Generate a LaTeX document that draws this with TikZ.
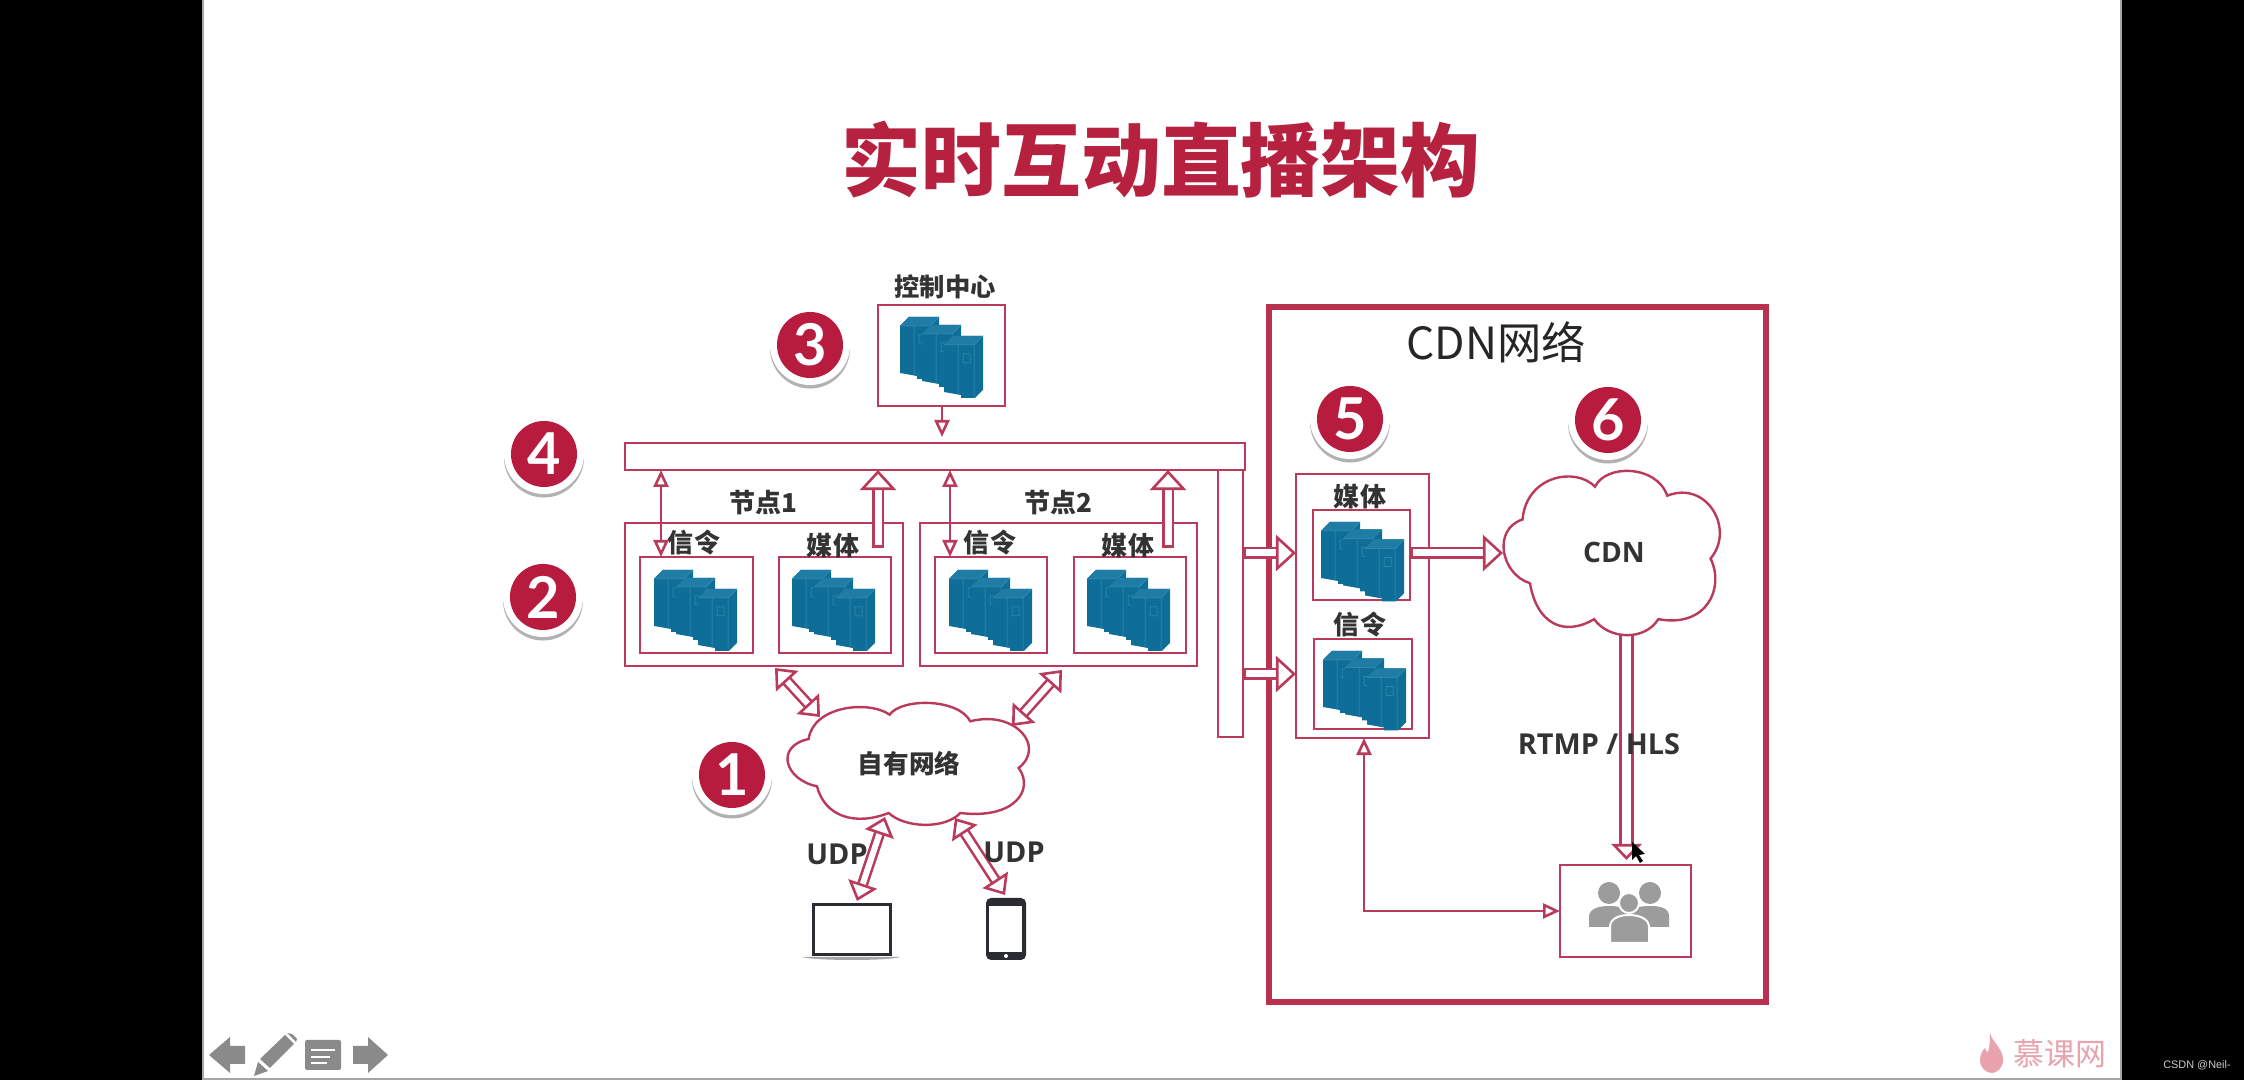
\documentclass[tikz,border=0pt]{standalone}
\usepackage{fontspec}
\usepackage{xcolor}
\usetikzlibrary{arrows.meta,fit,shadows}

\newfontfamily\cjk{Noto Sans CJK SC}
\newfontfamily\latn{Open Sans}
\newfontfamily\digi{Lato}
\newfontfamily\wmfont{Liberation Sans}

\definecolor{linered}{HTML}{BA3A5C}
\definecolor{framered}{HTML}{B8324F}
\definecolor{titlered}{HTML}{B5213F}
\definecolor{badgered}{HTML}{B71C3E}
\definecolor{serverblue}{HTML}{0F6E98}
\definecolor{servertop}{HTML}{1F7CA5}
\definecolor{serverline}{HTML}{3E93B8}
\definecolor{navgray}{HTML}{8A8A8A}
\definecolor{peoplegray}{HTML}{9C9C9C}
\definecolor{textdark}{HTML}{333333}
\definecolor{devicedark}{HTML}{2B2B33}
\definecolor{logopink}{HTML}{E8A3AF}

\tikzset{
	redbox/.style={draw=linered, line width=.026cm, inner sep=0, outer sep=0},
	whitebox/.style={redbox, fill=white},
	textlabel/.style={text=textdark, inner sep=0, font=\cjk\bfseries\fontsize{7.4}{8}\selectfont},
	latnlabel/.style={text=textdark, inner sep=0, font=\latn\bfseries\fontsize{8.2}{9}\selectfont},
	badge/.style={circle, fill=white, minimum size=.8cm, inner sep=0, text=white,
		font=\digi\bfseries\fontsize{16.4}{18}\selectfont,
		drop shadow={shadow xshift=0cm, shadow yshift=-.035cm, fill=black, opacity=.3},
		path picture={\fill[badgered] (path picture bounding box.center) circle (.33cm);}},
	thinone/.style={draw=linered, line width=.026cm,
		-{Triangle[fill=white, length=.17cm, width=.15cm, line width=.026cm]}},
	thinboth/.style={draw=linered, line width=.026cm,
		{Triangle[fill=white, length=.17cm, width=.15cm, line width=.026cm]}-{Triangle[fill=white, length=.17cm, width=.15cm, line width=.026cm]}},
	blockone/.style={draw=linered, double=white, double distance=.07cm, line width=.026cm,
		{Bar[width=.12cm, line width=.026cm]}-{Triangle[fill=white, length=.2cm, width=.36cm, line width=.026cm]}},
	blockdown/.style={draw=linered, double=white, double distance=.09cm, line width=.026cm,
		-{Triangle[fill=white, length=.16cm, width=.3cm, line width=.026cm]}},
	blockboth/.style={draw=linered, double=white, double distance=.06cm, line width=.026cm,
		{Triangle[fill=white, length=.18cm, width=.3cm, line width=.026cm]}-{Triangle[fill=white, length=.18cm, width=.3cm, line width=.026cm]}},
	servertower/.pic={
		\fill[serverblue] (0,9) -- (9,0) -- (39,0) -- (39,54) -- (31,62) -- (17,62) -- (17,59) -- (0,56) -- cycle;
		\fill[servertop] (0,9) -- (9,0) -- (39,0) -- (30,9) -- cycle;
		\draw[serverline, line width=.005cm] (0,9) -- (30,9) -- (39,0) (14,9) -- (14,59) (30,9) -- (30,62) (19,18) rectangle (26,27);
	},
	serverstack/.pic={
		\pic at (0,0) {servertower};
		\pic at (22,8) {servertower};
		\pic at (44,19) {servertower};
	},
	cloudshape/.pic={
		\draw[fill=white, draw=linered, line width=.024cm] (62,108)
			.. controls (75,10) and (240,-10) .. (305,35)
			.. controls (340,-15) and (510,-15) .. (547,55)
			.. controls (680,20) and (775,130) .. (692,195)
			.. controls (740,260) and (680,350) .. (517,330)
			.. controls (470,380) and (350,375) .. (302,330)
			.. controls (200,370) and (110,340) .. (87,250)
			.. controls (-10,230) and (-40,130) .. (62,108) -- cycle;
	}
}

\begin{document}
\begin{tikzpicture}[x=.01cm, y=-.01cm]
	\useasboundingbox (0,0) rectangle (2244,1080);
	\fill[black] (0,0) rectangle (2244,1080);
	\fill[white] (203,0) rectangle (2121,1078);
	\draw[gray!70, line width=.02cm] (203,-5) -- (203,1079) -- (2121,1079) -- (2121,-5);

	\node[inner sep=0, text=titlered, font=\cjk\bfseries\fontsize{22.7}{24}\selectfont] (title) at (1161,160) {实时互动直播架构};

	% left side
	\node[textlabel, font=\cjk\bfseries\fontsize{7.2}{8}\selectfont] (ctrllabel) at (945,287) {控制中心};
	\node[redbox, fit={(878,305) (1005,406)}] (ctrlbox) {};
	\pic at (900,317) {serverstack};

	\node[redbox, fit={(625,443) (1245,470)}] (busbar) {};
	\node[redbox, fit={(1218,470) (1243,737)}] (trunk) {};

	\node[redbox, fit={(625,523) (903,666)}] (nodeone) {};
	\node[redbox, fit={(920,523) (1197,666)}] (nodetwo) {};
	\node[textlabel] (nodeonelabel) at (763,503) {节点1};
	\node[textlabel] (nodetwolabel) at (1058,503) {节点2};

	\node[redbox, fit={(640,557) (753,653)}] (sigone) {};
	\node[redbox, fit={(779,557) (891,653)}] (medone) {};
	\node[redbox, fit={(935,557) (1047,653)}] (sigtwo) {};
	\node[redbox, fit={(1074,557) (1186,653)}] (medtwo) {};
	\pic at (654,570) {serverstack};
	\pic at (792,570) {serverstack};
	\pic at (949,570) {serverstack};
	\pic at (1087,570) {serverstack};
	\node[textlabel] (sigonelabel) at (694,543) {信令};
	\node[textlabel] (medonelabel) at (833,546) {媒体};
	\node[textlabel] (sigtwolabel) at (990,543) {信令};
	\node[textlabel] (medtwolabel) at (1128,546) {媒体};

	\coordinate (xctrl) at (942,0);
	\coordinate (xsigone) at (661,0);
	\coordinate (xmedone) at (878,0);
	\coordinate (xsigtwo) at (950,0);
	\coordinate (xmedtwo) at (1168,0);
	\coordinate (tailmed) at (0,548);
	\coordinate (tipctrl) at (942,437);
	\draw[thinone] (xctrl |- ctrlbox.south) -- (tipctrl);
	\draw[thinboth] (xsigone |- busbar.south) -- (xsigone |- sigone.north);
	\draw[thinboth] (xsigtwo |- busbar.south) -- (xsigtwo |- sigtwo.north);
	\draw[blockone] (xmedone |- tailmed) -- (xmedone |- busbar.south);
	\draw[blockone] (xmedtwo |- tailmed) -- (xmedtwo |- busbar.south);

	% own network
	\pic[xscale=.3333, yscale=.3333] at (788,703) {cloudshape};
	\node[inner sep=0, text=textdark, font=\cjk\bfseries\fontsize{7.3}{8}\selectfont] (ownnet) at (909,764) {自有网络};

	\node[draw=devicedark, line width=.03cm, inner sep=0, fit={(813,905) (890,955)}] (laptop) {};
	\fill[gray!70] (802,957) -- (900,957) .. controls (890,961) and (815,961) .. (802,957) -- cycle;
	\node[fill=devicedark, rounded corners=.05cm, inner sep=0, fit={(986,898) (1026,960)}] (phone) {};
	\fill[white] (989,906) rectangle (1022,952);
	\fill[white] (1006,956) circle (2);

	\coordinate (ownleftup) at (775,668);
	\coordinate (ownleftdown) at (820,717);
	\coordinate (ownrightup) at (1062,670);
	\coordinate (ownrightdown) at (1012,726);
	\coordinate (lapup) at (885,817);
	\coordinate (lapdown) at (857,901);
	\coordinate (phoneup) at (955,818);
	\coordinate (phonedown) at (1005,895);
	\draw[blockboth] (ownleftup) -- (ownleftdown);
	\draw[blockboth] (ownrightup) -- (ownrightdown);
	\draw[blockboth] (lapup) -- (lapdown);
	\draw[blockboth] (phoneup) -- (phonedown);
	\node[latnlabel] (udpleft) at (837,854) {UDP};
	\node[latnlabel] (udpright) at (1014,852) {UDP};

	% cdn side
	\draw[framered, line width=.06cm] (1269,307) rectangle (1766,1002);
	\node[inner sep=0, text=black!85, font=\cjk\fontsize{12.6}{14}\selectfont] (cdntitle) at (1496,342) {CDN网络};

	\node[redbox, fit={(1296,474) (1429,738)}] (cdnouter) {};
	\node[textlabel] (cdnmedlabel) at (1360,497) {媒体};
	\node[textlabel] (cdnsiglabel) at (1360,625) {信令};
	\node[redbox, fit={(1313,510) (1410,600)}] (cdnmed) {};
	\node[redbox, fit={(1314,639) (1412,729)}] (cdnsig) {};
	\pic[yscale=.92] at (1321,522) {serverstack};
	\pic[yscale=.92] at (1323,651) {serverstack};

	\coordinate (rowmed) at (0,553);
	\coordinate (rowsig) at (0,674);
	\coordinate (tipcdn) at (1503,553);
	\draw[blockone] (trunk.east |- rowmed) -- (cdnouter.west |- rowmed);
	\draw[blockone] (trunk.east |- rowsig) -- (cdnouter.west |- rowsig);
	\draw[blockone] (cdnmed.east |- rowmed) -- (tipcdn);

	\coordinate (xdown) at (1626.5,0);
	\coordinate (taildown) at (0,625);
	\coordinate (tipdown) at (0,860);
	\node[whitebox, fit={(1560,865) (1691,957)}] (users) {};
	\draw[blockdown] (xdown |- taildown) -- (xdown |- tipdown);

	\pic[xscale=.2985, yscale=.449] at (1504,471) {cloudshape};
	\node[inner sep=0, text=textdark, font=\latn\bfseries\fontsize{8}{9}\selectfont] (cdncloud) at (1614,552) {CDN};

	\coordinate (xback) at (1364,0);
	\draw[thinboth] (xback |- cdnouter.south) -- (xback |- users.west) -- (users.west);
	\node[latnlabel] (rtmp) at (1599,744) {RTMP / HLS};

	% people
	\fill[peoplegray] (1609,893) circle (11);
	\fill[peoplegray] (1650,893) circle (11);
	\fill[peoplegray] (1589,927) -- (1589,916) .. controls (1590,908) and (1600,906) .. (1609,906) .. controls (1618,906) and (1630,908) .. (1631,916) -- (1631,927) -- cycle;
	\fill[peoplegray] (1627,927) -- (1627,916) .. controls (1628,908) and (1640,906) .. (1650,906) .. controls (1660,906) and (1669,908) .. (1669,916) -- (1669,927) -- cycle;
	\draw[fill=peoplegray, draw=white, line width=.02cm] (1629,903) circle (10);
	\draw[fill=peoplegray, draw=white, line width=.02cm] (1610,943) -- (1610,926) .. controls (1611,918) and (1620,915) .. (1629,915) .. controls (1638,915) and (1648,918) .. (1649,926) -- (1649,943) -- cycle;

	% cursor
	\fill[black] (1632,842) -- (1632,860) -- (1636,856) -- (1640,863) -- (1643,861) -- (1639,855) -- (1645,854) -- cycle;

	% numbers
	\node[badge] (numone) at (732,775) {1};
	\node[badge] (numtwo) at (543,597) {2};
	\node[badge] (numthree) at (810,345) {3};
	\node[badge] (numfour) at (544,454) {4};
	\node[badge] (numfive) at (1350,419) {5};
	\node[badge] (numsix) at (1608,420) {6};

	% slide controls
	\fill[navgray] (209,1055) -- (230,1037) -- (230,1046) -- (245,1046) -- (245,1064) -- (230,1064) -- (230,1073) -- cycle;
	\fill[navgray] (254,1076) -- (258,1062) -- (268,1071) -- cycle;
	\fill[navgray] (260,1059) -- (285,1035) -- (294,1044) -- (270,1068) -- cycle;
	\fill[navgray] (287,1033) -- (292,1034) -- (297,1039) -- (296,1042) -- cycle;
	\fill[navgray, rounded corners=.02cm] (305,1040) rectangle (341,1070);
	\draw[white, line width=.02cm] (311,1050) -- (335,1050);
	\draw[white, line width=.015cm] (311,1057) -- (330,1057) (311,1063) -- (327,1063);
	\fill[navgray] (388,1055) -- (368,1037) -- (368,1046) -- (353,1046) -- (353,1064) -- (368,1064) -- (368,1073) -- cycle;

	% logo
	\fill[logopink] (1990,1033) .. controls (1992,1042) and (2003,1048) .. (2003,1060) .. controls (2003,1068) and (1997,1073) .. (1992,1073) .. controls (1986,1073) and (1980,1068) .. (1980,1060) .. controls (1980,1054) and (1983,1050) .. (1985,1048) .. controls (1986,1051) and (1987,1052) .. (1988,1052) .. controls (1990,1046) and (1990,1040) .. (1990,1033) -- cycle;
	\node[inner sep=0, text=logopink, font=\cjk\fontsize{8.8}{10}\selectfont] (logotext) at (2060,1054) {慕课网};
	\node[inner sep=0, text=gray!40, font=\wmfont\fontsize{3.1}{4}\selectfont] (csdn) at (2197,1065) {CSDN @Neil-};
\end{tikzpicture}
\end{document}
